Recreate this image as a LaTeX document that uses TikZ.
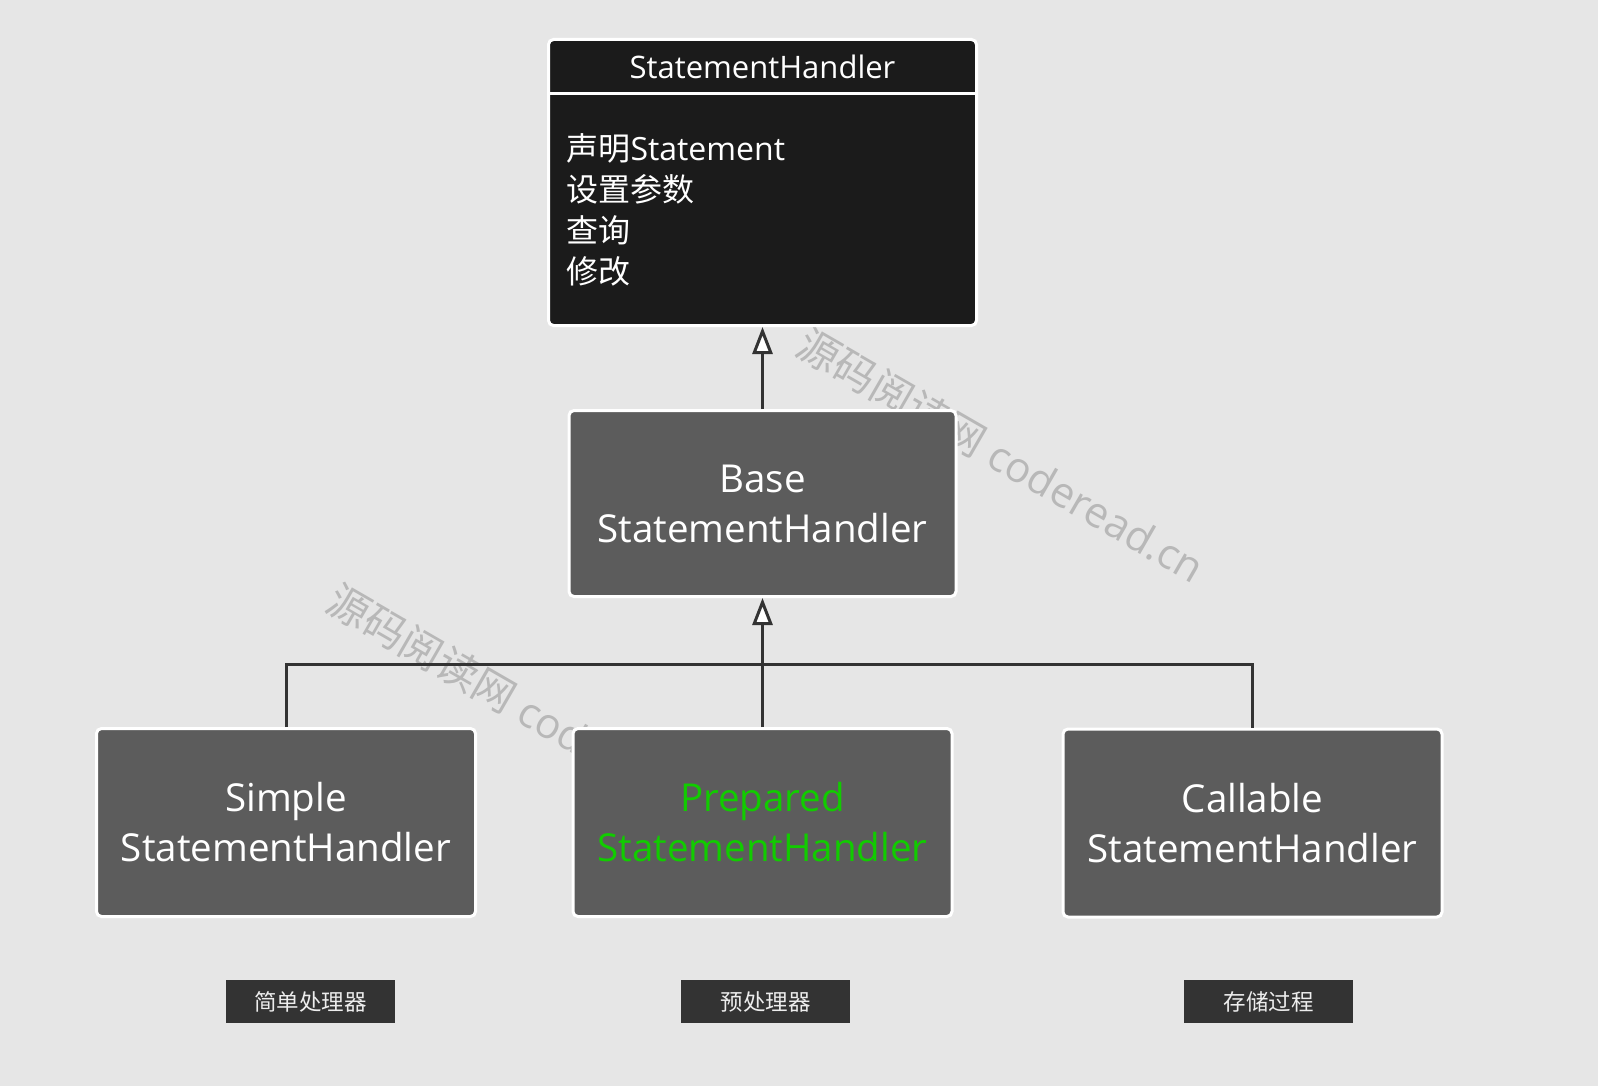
\documentclass[tikz,border=0pt]{standalone}
\usepackage{fontspec}
\setmainfont{Open Sans}
\newfontfamily\cjk{Noto Sans CJK SC}
\usetikzlibrary{arrows.meta}
\definecolor{bg}{HTML}{E6E6E6}
\definecolor{topfill}{HTML}{1B1B1B}
\definecolor{boxfill}{HTML}{5C5C5C}
\definecolor{labfill}{HTML}{333333}
\definecolor{linec}{HTML}{333333}
\definecolor{wmc}{HTML}{B8B8B8}
\definecolor{greentxt}{HTML}{11CC00}
\tikzset{
  cls/.style={draw=white, line width=3pt, rounded corners=5pt, fill=boxfill,
    text=white, align=center, font=\fontsize{38.5}{50}\selectfont,
    minimum width=379pt, minimum height=188pt, inner sep=0pt},
  lab/.style={fill=labfill, text=white!93!black, font=\cjk\fontsize{22.5}{26}\selectfont,
    minimum width=169pt, minimum height=43pt, inner sep=0pt},
  conn/.style={draw=linec, line width=3pt},
  inh/.style={conn, -{Triangle[length=27pt,width=20pt,fill=white]}},
  wm/.style={text=wmc, font=\fontsize{42}{46}\selectfont, inner sep=0pt},
}
\begin{document}
\begin{tikzpicture}[x=1pt,y=-1pt]
\fill[bg] (0,0) rectangle (1598,1086);
\useasboundingbox (0,0) rectangle (1598,1086);
% watermarks
\node[wm, rotate=-30, anchor=west] (wm1) at (801,340) {{\cjk 源码阅读网} coderead.cn};
\node[wm, rotate=-30, anchor=west] (wm2) at (331,596) {{\cjk 源码阅读网} coderead.cn};
% top class
\node[draw=white, line width=3pt, rounded corners=5pt, fill=topfill,
  minimum width=428pt, minimum height=286pt, inner sep=0pt] (top) at (762.5,182.5) {};
\draw[white, line width=3pt] (top.west |- 0,93.5) -- (top.east |- 0,93.5);
\node[text=white, font=\fontsize{31}{36}\selectfont] (tophead) at (762.5,67) {StatementHandler};
\node[text=white, anchor=west, align=left, font=\fontsize{32}{41}\selectfont] (topbody) at (563,210)
  {{\cjk 声明}Statement\\{\cjk 设置参数}\\{\cjk 查询}\\{\cjk 修改}};
% classes
\node[cls, minimum width=387pt, minimum height=186pt] (base) at (762.5,503.5) {Base\\StatementHandler};
\node[cls] (simple) at (286,822.5) {Simple\\StatementHandler};
\node[cls, text=greentxt] (prepared) at (762.5,822.5) {Prepared\\StatementHandler};
\node[cls] (callable) at (1252.5,823) {Callable\\StatementHandler};
% connectors
\coordinate (bus) at (762.5,664);
\draw[inh] (base.north) -- (top.south);
\draw[conn] (simple.north) |- (bus) -| (callable.north);
\draw[inh] (prepared.north) -- (base.south);
% labels
\node[lab] (l1) at (310.5,1001.5) {简单处理器};
\node[lab] (l2) at (765.5,1001.5) {预处理器};
\node[lab] (l3) at (1268.5,1001.5) {存储过程};
\end{tikzpicture}
\end{document}
